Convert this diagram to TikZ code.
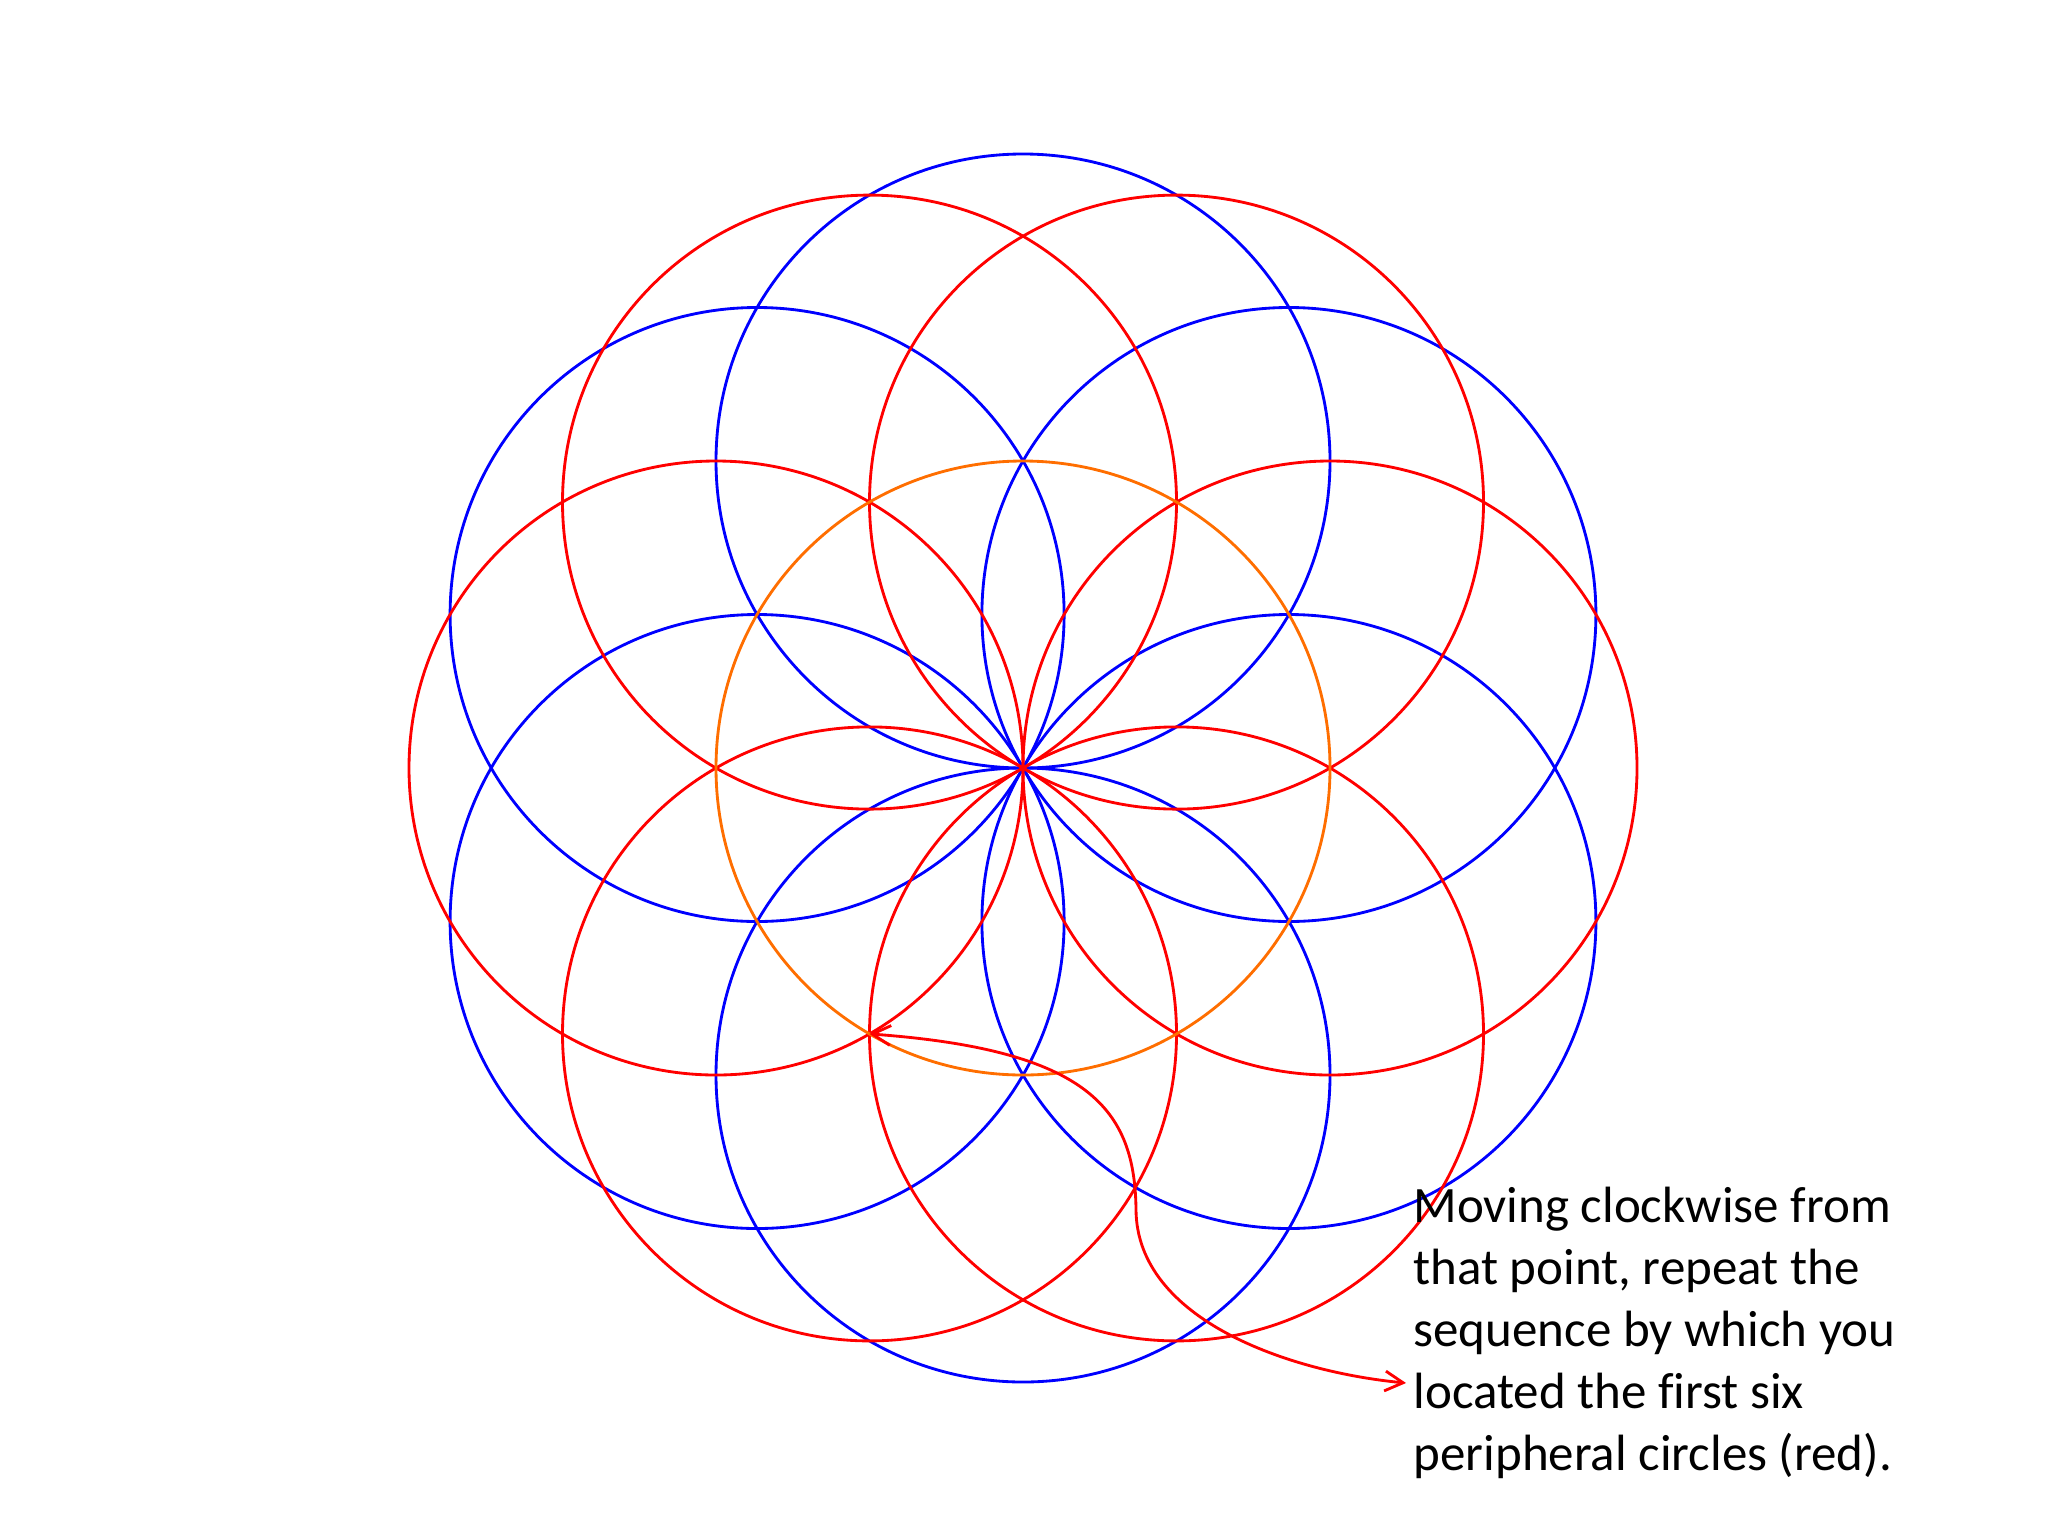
\documentclass[tikz,border=0pt]{standalone}
\usepackage{fontspec}
\setmainfont[Ligatures = NoCommon]{Carlito}
\usetikzlibrary{arrows.meta}

\begin{document}
\begin{tikzpicture}[x = 0.0124023cm, y = -0.0124023cm]
	\tikzstyle{redCircle} = [draw = red, line width = 1pt]
	\tikzstyle{blueCircle} = [draw = blue, line width = 1pt]
	\tikzstyle{middleCircle} = [draw = {rgb,255:red,255;green,110;blue,0}, line width = 1pt]
	\tikzstyle{noteArrow} = [draw = red, line width = 1pt, {Straight Barb[length = 6.4pt, width = 7pt]}-{Straight Barb[length = 6.4pt, width = 7pt]}]
	\useasboundingbox (0, 0) rectangle (2048, 1536);
	% first ring (blue)
	\draw[blueCircle] (1023.0, 461.0) circle [radius = 307];
	\draw[blueCircle] (1288.9, 614.5) circle [radius = 307];
	\draw[blueCircle] (1288.9, 921.5) circle [radius = 307];
	\draw[blueCircle] (1023.0, 1075.0) circle [radius = 307];
	\draw[blueCircle] (757.1, 921.5) circle [radius = 307];
	\draw[blueCircle] (757.1, 614.5) circle [radius = 307];
	% peripheral circles (red)
	\draw[redCircle] (1330.0, 768.0) circle [radius = 307];
	\draw[redCircle] (1176.5, 502.1) circle [radius = 307];
	\draw[redCircle] (869.5, 502.1) circle [radius = 307];
	\draw[redCircle] (716.0, 768.0) circle [radius = 307];
	\draw[redCircle] (869.5, 1033.9) circle [radius = 307];
	\draw[redCircle] (1176.5, 1033.9) circle [radius = 307];
	% middle circle
	\draw[middleCircle] (1023.0, 768.0) circle [radius = 307];
	\coordinate (start) at (869.5, 1033.9);
	\coordinate (tip) at (1406, 1383);
	\node[anchor = north west, inner sep = 0pt, align = left, font = \fontsize{18}{21.8}\selectfont] (note) at (1413, 1187)
		{Moving clockwise from\\that point, repeat the\\sequence by which you\\located the first six\\peripheral circles (red).};
	\draw[noteArrow] (start) .. controls (1090, 1050) and (1135, 1110) .. (1136, 1210)
		.. controls (1137, 1320) and (1290, 1372) .. (tip);
\end{tikzpicture}
\end{document}
